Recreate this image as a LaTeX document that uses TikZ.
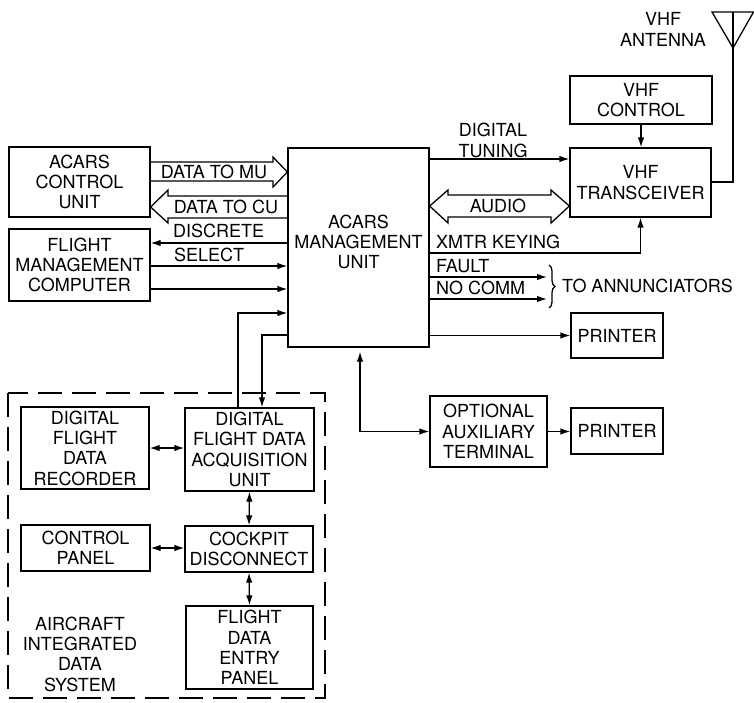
\documentclass[tikz,border=0pt]{standalone}
\usepackage{fontspec}
\setmainfont{TeX Gyre Heros}
\usetikzlibrary{arrows.meta,decorations.pathreplacing,calc}
\newcommand\diagfont{\fontsize{18}{20.3}\selectfont}
\tikzset{
  box/.style={draw, line width=1.3pt, inner sep=0pt, align=center, font=\diagfont},
  txt/.style={inner sep=0pt, align=center, font=\diagfont},
  ln/.style={line width=1.3pt},
  conn/.style={line width=1.3pt, -{Latex[length=10pt,width=6.5pt]}},
  dconn/.style={line width=1.3pt, {Latex[length=10pt,width=6.5pt]}-{Latex[length=10pt,width=6.5pt]}},
  hollow/.style={line width=1.3pt, line join=miter}
}
\begin{document}
\begin{tikzpicture}[x=1pt,y=-1pt]
\useasboundingbox (0,0) rectangle (754,702);
% boxes
\node[box,minimum width=141pt,minimum height=70pt] (cu) at (79.5,182) {ACARS\\CONTROL\\UNIT};
\node[box,minimum width=141pt,minimum height=72pt] (fmc) at (79.5,265) {FLIGHT\\MANAGEMENT\\COMPUTER};
\node[box,minimum width=141pt,minimum height=199pt] (mu) at (358.5,247.5) {};
\node[txt] (mut) at (358.5,242) {ACARS\\MANAGEMENT\\UNIT};
\node[box,minimum width=142pt,minimum height=48pt] (vhfc) at (641,100) {VHF\\CONTROL};
\node[box,minimum width=141pt,minimum height=69pt] (vhft) at (640.5,182.5) {VHF\\TRANSCEIVER};
\node[box,minimum width=92pt,minimum height=45pt] (pr1) at (617,335.5) {PRINTER};
\node[box,minimum width=117pt,minimum height=71pt] (oat) at (488.5,431.5) {OPTIONAL\\AUXILIARY\\TERMINAL};
\node[box,minimum width=92pt,minimum height=46pt] (pr2) at (617,431) {PRINTER};
\node[box,minimum width=128pt,minimum height=82pt] (dfdr) at (85,448) {DIGITAL\\FLIGHT\\DATA\\RECORDER};
\node[box,minimum width=129pt,minimum height=83pt] (dfdau) at (249.5,449.5) {DIGITAL\\FLIGHT DATA\\ACQUISITION\\UNIT};
\node[box,minimum width=129pt,minimum height=46pt] (cp) at (85.5,548) {CONTROL\\PANEL};
\node[box,minimum width=128pt,minimum height=46pt] (cd) at (249,549) {COCKPIT\\DISCONNECT};
\node[box,minimum width=127pt,minimum height=83pt] (fdep) at (249.5,647.5) {FLIGHT\\DATA\\ENTRY\\PANEL};
\node[txt] (aids) at (80,654) {AIRCRAFT\\INTEGRATED\\DATA\\SYSTEM};
\draw[line width=2.2pt, dash pattern=on 24pt off 10pt] (8,393) rectangle (325,698);
% hollow arrows
\draw[hollow] (cu.east |- 0,162) -- (273,162) -- (273,157) -- (mu.west |- 0,172) -- (273,187) -- (273,181) -- (cu.east |- 0,181);
\draw[hollow] (mu.west |- 0,196) -- (168,196) -- (168,190) -- (cu.east |- 0,207) -- (168,223) -- (168,218) -- (mu.west |- 0,218);
\draw[hollow] (mu.east |- 0,206) -- (448,190) -- (448,195) -- (551,195) -- (551,190) -- (vhft.west |- 0,206) -- (551,223) -- (551,217) -- (448,217) -- (448,223) -- cycle;
\node[txt] at (214,172) {DATA TO MU};
\node[txt] at (226,207) {DATA TO CU};
\node[txt] at (498,206) {AUDIO};
% left connectors
\draw[conn] (mu.west |- 0,243) -- (fmc.east |- 0,243);
\draw[conn] (fmc.east |- 0,266) -- (mu.west |- 0,266);
\draw[conn] (fmc.east |- 0,289) -- (mu.west |- 0,289);
\node[txt,anchor=west] at (173,231) {DISCRETE};
\node[txt,anchor=west] at (174,255) {SELECT};
\draw[conn] (dfdau.north -| 238,0) |- (mu.west |- 0,313);
\draw[conn] (mu.west |- 0,335) -| (dfdau.north -| 262,0);
\draw[dconn] (dfdr.east) -- (dfdau.west |- dfdr.east);
\draw[dconn] (cp.east) -- (cd.west |- cp.east);
\draw[dconn] (dfdau.south) -- (cd.north);
\draw[dconn] (cd.south) -- (fdep.north);
% bottom right
\draw[dconn, shorten <=4pt] (mu.south -| 360,0) |- (oat.west);
\draw[conn] (oat.east) -- (pr2.west |- oat.east);
\draw[conn] (mu.east |- pr1.west) -- (pr1.west);
% right side
\draw[conn] (mu.east |- 0,159) -- (vhft.west |- 0,159);
\node[txt] at (493,140.5) {DIGITAL\\TUNING};
\draw[conn] (mu.east |- 0,253) -| (vhft.south);
\node[txt,anchor=west] at (436,242) {XMTR KEYING};
\coordinate (fa) at (547,277);
\coordinate (nc) at (547,299);
\draw[conn] (mu.east |- fa) -- (fa);
\draw[conn] (mu.east |- nc) -- (nc);
\node[txt,anchor=west] at (436,266) {FAULT};
\node[txt,anchor=west] at (436,288) {NO COMM};
\draw[ln, decorate, decoration={brace,amplitude=6pt}] (549,265) -- (549,308);
\node[txt,anchor=west] at (562,286) {TO ANNUNCIATORS};
\draw[conn] (vhfc.south) -- (vhft.north -| vhfc.south);
% antenna
\coordinate (ant) at (733,48);
\draw[ln] (vhft.east |- 0,182) -| (733,12);
\draw[ln, line join=miter] (712,12) -- (753.5,12) -- (ant) -- cycle;
\node[txt] at (663,29.5) {VHF\\ANTENNA};
\end{tikzpicture}
\end{document}
